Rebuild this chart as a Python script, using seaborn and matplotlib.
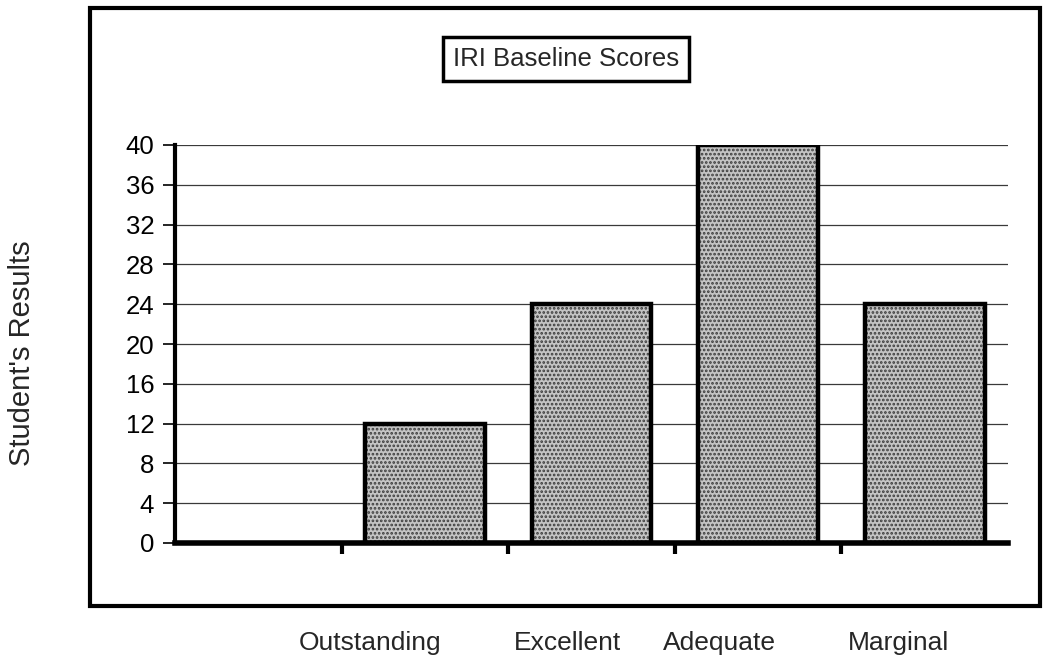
import matplotlib
matplotlib.use("Agg")
import matplotlib.pyplot as plt
import seaborn as sns
import pandas as pd
from matplotlib.patches import Rectangle

categories = ["Outstanding", "Excellent", "Adequate", "Marginal"]
results = [12, 24, 40, 24]
y_ticks = [0, 4, 8, 12, 16, 20, 24, 28, 32, 36, 40]

# label placement below the frame (figure fraction)
label_x = [370 / 1050, 568 / 1050, 719 / 1050, 898 / 1050]

sns.set_style("white")
plt.rcParams["font.family"] = ["Liberation Sans", "DejaVu Sans"]
plt.rcParams["hatch.linewidth"] = 1.3

df = pd.DataFrame({"Category": categories, "Results": results})

fig = plt.figure(figsize=(10.5, 6.66), dpi=100)
ax = fig.add_axes([175 / 1050, 1 - 543 / 666, 833 / 1050, 398 / 666])

# stippled fill, then the heavy black outline on top
sns.barplot(data=df, x="Category", y="Results", ax=ax, width=0.72,
            color="#c4c4c4", edgecolor="#3c3c3c", hatch="....", linewidth=0,
            zorder=2)
sns.barplot(data=df, x="Category", y="Results", ax=ax, width=0.72,
            fill=False, edgecolor="black", linewidth=3.2, zorder=3)

ax.set_xlim(-1.5, 3.5)
ax.set_ylim(0, 40)
ax.set_yticks(y_ticks)
ax.set_xticks([-0.5, 0.5, 1.5, 2.5])
ax.set_xticklabels([])
ax.set_xlabel("")
ax.set_ylabel("")
ax.grid(axis="y", color="#3a3a3a", linewidth=0.9, zorder=0)
ax.set_axisbelow(True)

for side in ["top", "right"]:
    ax.spines[side].set_visible(False)
ax.spines["left"].set_linewidth(3)
ax.spines["bottom"].set_linewidth(4)
ax.spines["left"].set_color("black")
ax.spines["bottom"].set_color("black")

ax.tick_params(axis="y", direction="out", length=9, width=1.2, pad=6,
               labelsize=18.5, left=True, colors="black")
ax.tick_params(axis="x", direction="out", length=8, width=3, bottom=True,
               colors="black")

# outer frame round the whole chart
fig.patches.append(Rectangle((90 / 1050, 1 - 606 / 666), 950 / 1050, 598 / 666,
                             transform=fig.transFigure, fill=False,
                             edgecolor="black", linewidth=3))

fig.text(566 / 1050, 1 - 59 / 666, "IRI Baseline Scores", fontsize=18.5,
         ha="center", va="center",
         bbox=dict(boxstyle="square,pad=0.4", facecolor="white",
                   edgecolor="black", linewidth=2.5))

fig.text(22 / 1050, 1 - 353 / 666, "Student's Results", fontsize=21,
         rotation=90, ha="center", va="center")

for name, x in zip(categories, label_x):
    fig.text(x, 1 - 643 / 666, name, fontsize=19, ha="center", va="center")

fig.savefig("out.png", dpi=100)
